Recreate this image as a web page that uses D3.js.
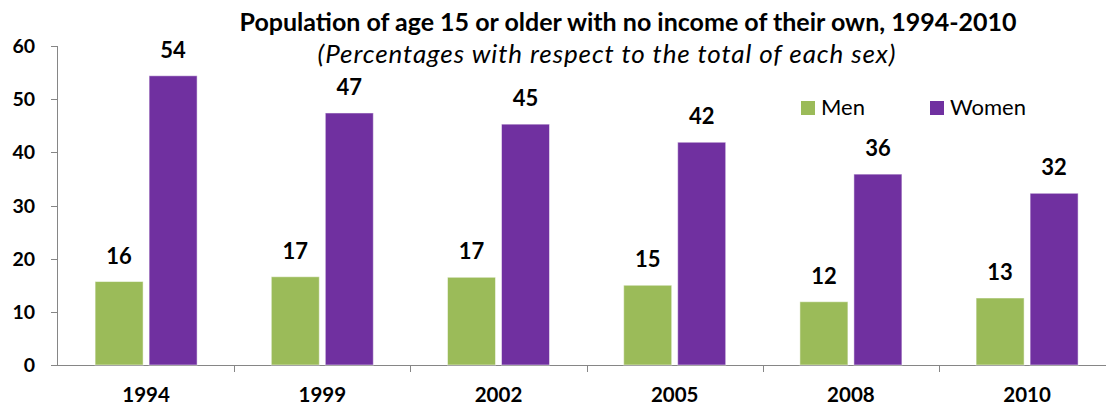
<!DOCTYPE html>
<html lang="en">
<head>
<meta charset="UTF-8">
<script src="https://cdn.jsdelivr.net/npm/d3@7"></script>
<style>
  body { margin: 0; background: #fff; }
  text { font-family: Lato, "Open Sans", sans-serif; fill: #000; }
</style>
</head>
<body>
<div id="fig"></div>
<script>
const years = ["1994", "1999", "2002", "2005", "2008", "2010"];
const men = [15.7, 16.6, 16.5, 15.0, 11.9, 12.6];
const women = [54.4, 47.4, 45.3, 41.9, 35.9, 32.3];
const yTicks = [0, 10, 20, 30, 40, 50, 60];
const seriesNames = ["Men", "Women"];
const colors = ["#9bbb59", "#7030a0"];

const width = 1106, height = 406;
const svg = d3.select("#fig").append("svg")
    .attr("width", width)
    .attr("height", height);

// band width ~176 px, last band runs past the right edge
const x = d3.scaleBand().domain(years).range([58, 58 + 176.2 * years.length]);
const y = d3.scaleLinear().domain([0, 60]).range([365, 46]);

const barW = 48, gap = 6;

// y axis
svg.append("line")
    .attr("x1", 57.5).attr("x2", 57.5)
    .attr("y1", y(60)).attr("y2", y(0))
    .attr("stroke", "#868686");
svg.selectAll(".ytick").data(yTicks).join("line")
    .attr("x1", 51).attr("x2", 57.5)
    .attr("y1", d => Math.round(y(d)) + 0.5).attr("y2", d => Math.round(y(d)) + 0.5)
    .attr("stroke", "#868686");
svg.selectAll(".ylab").data(yTicks).join("text")
    .attr("x", 35).attr("y", d => y(d) + 7)
    .attr("text-anchor", "end")
    .style("font-size", "19.5px").style("font-weight", "bold")
    .text(d => d);

// x axis
svg.append("line")
    .attr("x1", 51).attr("x2", width)
    .attr("y1", 365.5).attr("y2", 365.5)
    .attr("stroke", "#868686");
svg.selectAll(".xtick").data(years.slice(1)).join("line")
    .attr("x1", d => Math.round(x(d)) + 0.5).attr("x2", d => Math.round(x(d)) + 0.5)
    .attr("y1", 365).attr("y2", 372)
    .attr("stroke", "#868686");
svg.selectAll(".xlab").data(years).join("text")
    .attr("x", d => x(d) + x.bandwidth() / 2)
    .attr("y", 402)
    .attr("text-anchor", "middle")
    .style("font-size", "20.5px").style("font-weight", "bold")
    .text(d => d);

// bars
const series = [men, women];
series.forEach((vals, si) => {
    const off = si === 0 ? -(barW + gap / 2) : gap / 2;
    svg.selectAll(".bar" + si).data(vals).join("rect")
        .attr("x", (d, i) => x(years[i]) + x.bandwidth() / 2 + off)
        .attr("y", d => y(d))
        .attr("width", barW)
        .attr("height", d => y(0) - y(d))
        .attr("fill", colors[si])
        .attr("stroke", "#ffffff").attr("stroke-opacity", 0.5).attr("stroke-width", 1);
    svg.selectAll(".lab" + si).data(vals).join("text")
        .attr("x", (d, i) => x(years[i]) + x.bandwidth() / 2 + off + barW / 2)
        .attr("y", d => y(d) - 18)
        .attr("text-anchor", "middle")
        .style("font-size", "22px").style("font-weight", "bold")
        .text(d => Math.round(d));
});

// title
svg.append("text")
    .attr("x", 628).attr("y", 31)
    .attr("text-anchor", "middle")
    .style("font-size", "25px").style("font-weight", "bold")
    .text("Population of age 15 or older with no income of their own, 1994-2010");
svg.append("text")
    .attr("x", 607).attr("y", 63)
    .attr("text-anchor", "middle")
    .style("font-size", "26px").style("font-style", "italic")
    .style("letter-spacing", "0.9px")
    .text("(Percentages with respect to the total of each sex)");

// legend
const legendX = [801, 930];
seriesNames.forEach((n, i) => {
    svg.append("rect")
        .attr("x", legendX[i]).attr("y", 101)
        .attr("width", 14).attr("height", 14)
        .attr("fill", colors[i]);
    svg.append("text")
        .attr("x", legendX[i] + 20).attr("y", 115)
        .style("font-size", "22px")
        .text(n);
});
</script>
</body>
</html>
